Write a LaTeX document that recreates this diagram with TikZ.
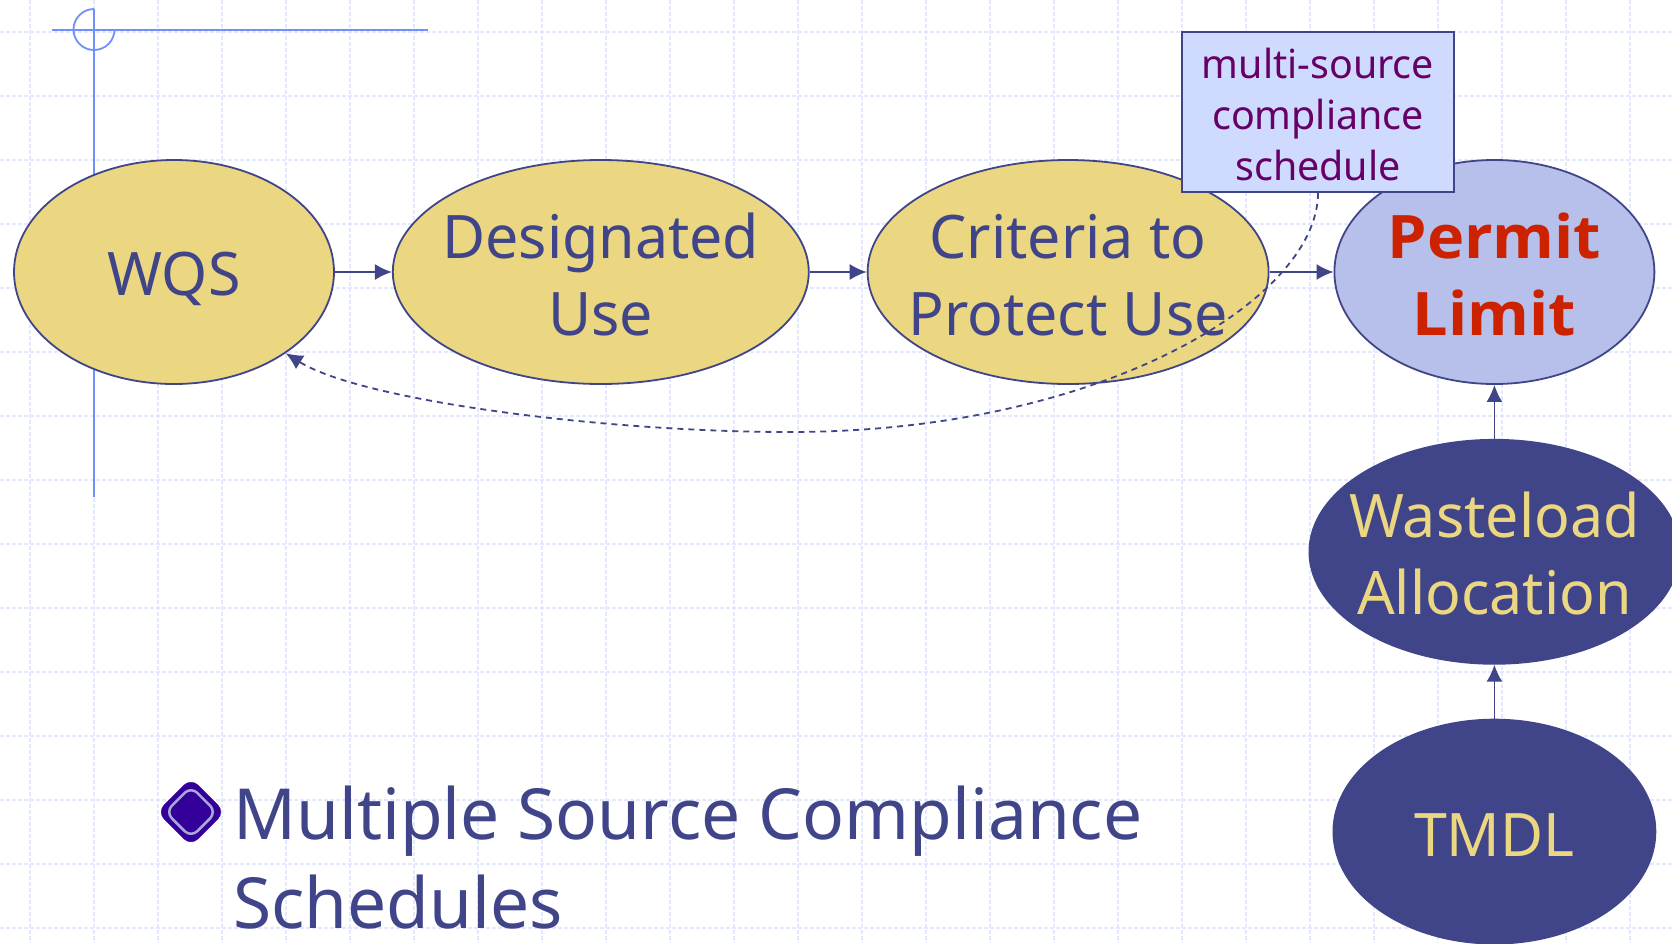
\documentclass[tikz,border=0pt]{standalone}
\usepackage{fontspec}
\setmainfont[FakeStretch=0.985]{Noto Sans}
\newfontfamily\heavyfont[FakeStretch=1.05]{Open Sans}
\usetikzlibrary{shapes.geometric}
\usetikzlibrary{arrows.meta}
\usetikzlibrary{positioning}
\definecolor{ink}{HTML}{404488}
\definecolor{sand}{HTML}{EBD682}
\definecolor{periwinkle}{HTML}{B7C0EA}
\definecolor{notefill}{HTML}{CEDBFF}
\definecolor{plum}{HTML}{660066}
\definecolor{signal}{HTML}{CC2200}
\definecolor{rule}{HTML}{7090FF}
\definecolor{gridline}{HTML}{E2E9FF}
\definecolor{indigo}{HTML}{330099}
\definecolor{ringcolor}{HTML}{A8A8D8}

\begin{document}
\begin{tikzpicture}[
    x=1pt, y=-1pt,
    >={Latex[length=17pt,width=16pt]},
    sandnode/.style={ellipse, draw=ink, line width=1.8pt, fill=sand, text=ink, inner xsep=-70pt, inner ysep=-20pt, text height=126pt, text depth=0pt, minimum height=224pt, align=center, font=\fontsize{60}{77}\selectfont},
    limitnode/.style={sandnode, fill=periwinkle, text=signal, font=\fontsize{60}{77}\selectfont\heavyfont\bfseries},
    darknode/.style={sandnode, fill=ink, text=sand},
    notenode/.style={rectangle, draw=ink, line width=1.8pt, fill=notefill, text=plum, inner sep=0pt, text height=136pt, text depth=0pt, minimum width=272pt, minimum height=160pt, align=center, font=\fontsize{40}{51}\selectfont},
    link/.style={->, draw=ink, line width=1.8pt},
    ]
    \useasboundingbox (0,0) rectangle (1672,943);
    \fill[white] (0,0) rectangle (1672,943);

    %Grid
    \foreach \gx in {30,94,...,1670}
        \draw[gridline, line width=1.3pt, dash pattern=on 4pt off 2pt] (\gx,0) -- (\gx,943);
    \foreach \gy in {32,96,...,940}
        \draw[gridline, line width=1.3pt, dash pattern=on 4pt off 2pt] (0,\gy) -- (1672,\gy);

    %Corner mark
    \draw[rule, line width=1.8pt] (52,30) -- (428,30);
    \draw[rule, line width=1.8pt] (94,9) -- (94,497);
    \draw[rule, line width=1.8pt] (94,9) arc[start angle=90, end angle=360, radius=20.5pt];

    %Nodes
    \node[sandnode, minimum width=320pt, text height=47pt]  (wqs)       at (174,272)           {WQS};
    \node[sandnode, minimum width=416pt]  (designated) [right=57pt of wqs]   {Designated\\Use};
    \node[sandnode, minimum width=401pt]  (criteria)  [right=57pt of designated] {Criteria to\\Protect Use};
    \node[limitnode, minimum width=320pt] (permit)    [right=64pt of criteria] {Permit\\Limit};
    \node[darknode, minimum width=370pt]  (wasteload) [below=54pt of permit] {Wasteload\\Allocation};
    \node[darknode, minimum width=322pt, text height=50pt]  (tmdl)      [below=54pt of wasteload] {TMDL};
    \node[notenode]                       (note)      at (1318,112)          {multi-source\\compliance\\schedule};
    \coordinate (sag) at (790,432);

    %Lines
    \draw[link] (wqs.east) -- (designated.west);
    \draw[link] (designated.east) -- (criteria.west);
    \draw[link] (criteria.east) -- (permit.west);
    \draw[link] (wasteload.north) -- (permit.south);
    \draw[link] (tmdl.north) -- (wasteload.south);
    \draw[link, dash pattern=on 6pt off 5pt] (note.south) .. controls (1318,300) and (1100,432) .. (sag)
        .. controls (600,432) and (360,400) .. (wqs.-36);

    %Bullet
    \node[diamond, fill=indigo, draw=indigo, rounded corners=10pt, inner sep=0pt, minimum size=68pt] (bullet) at (191,812) {};
    \node[diamond, draw=ringcolor, line width=2.5pt, rounded corners=9pt, inner sep=0pt, minimum size=52pt] (bulletring) at (bullet) {};
    \node[anchor=base west, text=ink, inner sep=0pt, align=left, font=\fontsize{70.5}{89}\selectfont] (heading) at (233,928) {Multiple Source Compliance\\Schedules};
\end{tikzpicture}
\end{document}
